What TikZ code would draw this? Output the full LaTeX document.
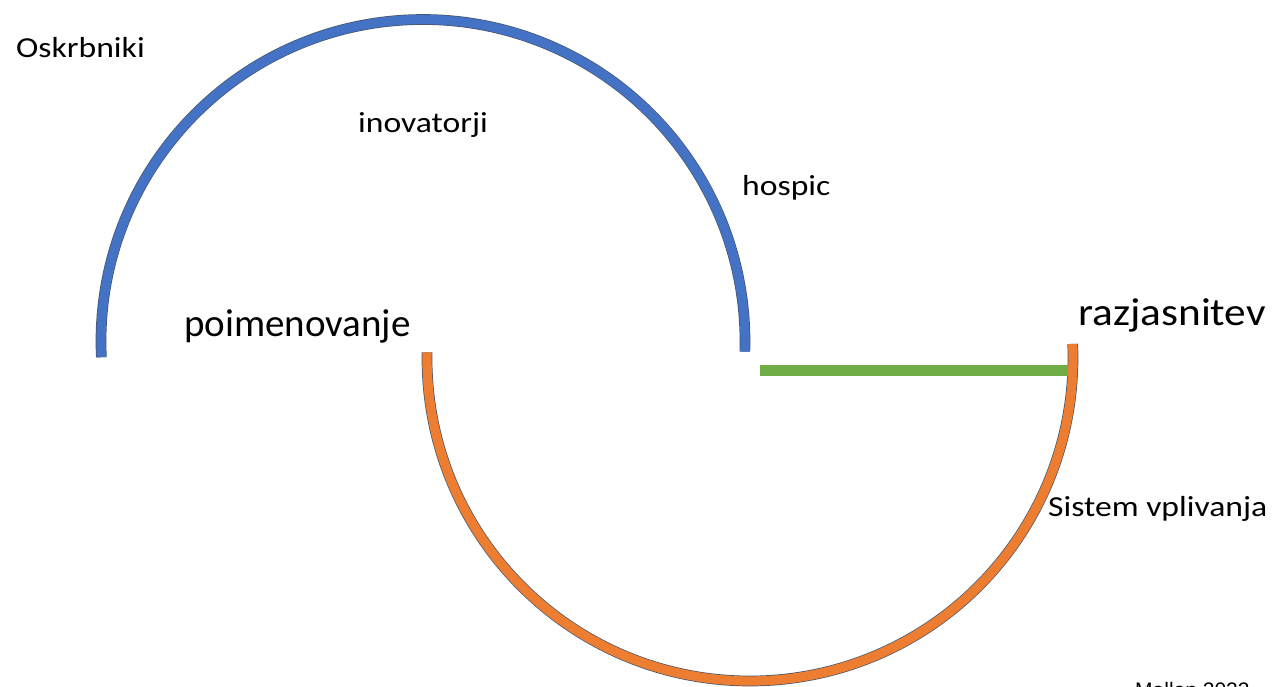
\documentclass[tikz,border=0pt]{standalone}
\usepackage{fontspec}
\usetikzlibrary{calc}
\setmainfont{Carlito}
\newfontfamily\widefont[FakeStretch=1.16]{Carlito}
\newfontfamily\razfont[FakeStretch=1.11]{Carlito}
\newfontfamily\credfont{Liberation Sans}
\definecolor{arcblue}{HTML}{4472C4}
\definecolor{arcorange}{HTML}{ED7D31}
\definecolor{arcgreen}{HTML}{70AD47}
\definecolor{arcedge}{HTML}{44546A}
\begin{document}
\begin{tikzpicture}[x=1pt,y=-1pt,
  smalllabel/.style={anchor=base west,inner sep=0pt,font=\widefont\fontsize{29}{33}\selectfont},
  biglabel/.style={anchor=base west,inner sep=0pt,font=\fontsize{39}{44}\selectfont},
  blockarc/.style={draw=arcedge,line width=0.7pt,double=#1,double distance=9.3pt}]
\useasboundingbox (0,0) rectangle (1277,687);
% blue arc
\coordinate (bc) at (423,341.5);
\coordinate (bstart) at ($(bc)+(177.2:322)$);
\draw[blockarc=arcblue] (bstart) arc[start angle=177.2,end angle=361.8,radius=322];
% orange arc
\coordinate (oc) at (750,358);
\coordinate (ostart) at ($(oc)+(181:323)$);
\draw[blockarc=arcorange] (ostart) arc[start angle=181,end angle=-2.5,radius=323];
% green connector
\coordinate (g1) at (760,370.5);
\coordinate (g2) at (1068,370.5);
\draw[arcgreen,line width=11pt] (g1) -- (g2);
% labels
\node[smalllabel] (oskr) at (16,58) {Oskrbniki};
\node[smalllabel] (inov) at (358,133) {inovatorji};
\node[smalllabel] (hosp) at (742,196) {hospic};
\node[biglabel] (poim) at (184,336) {poimenovanje};
\node[biglabel,font=\razfont\fontsize{39}{44}\selectfont] (razj) at (1078,325) {razjasnitev};
\node[smalllabel] (sist) at (1048,516) {Sistem vplivanja};
\node[anchor=base west,inner sep=0pt,font=\credfont\fontsize{21}{24}\selectfont] (mall) at (1135,697) {Mallon 2023};
\end{tikzpicture}
\end{document}
